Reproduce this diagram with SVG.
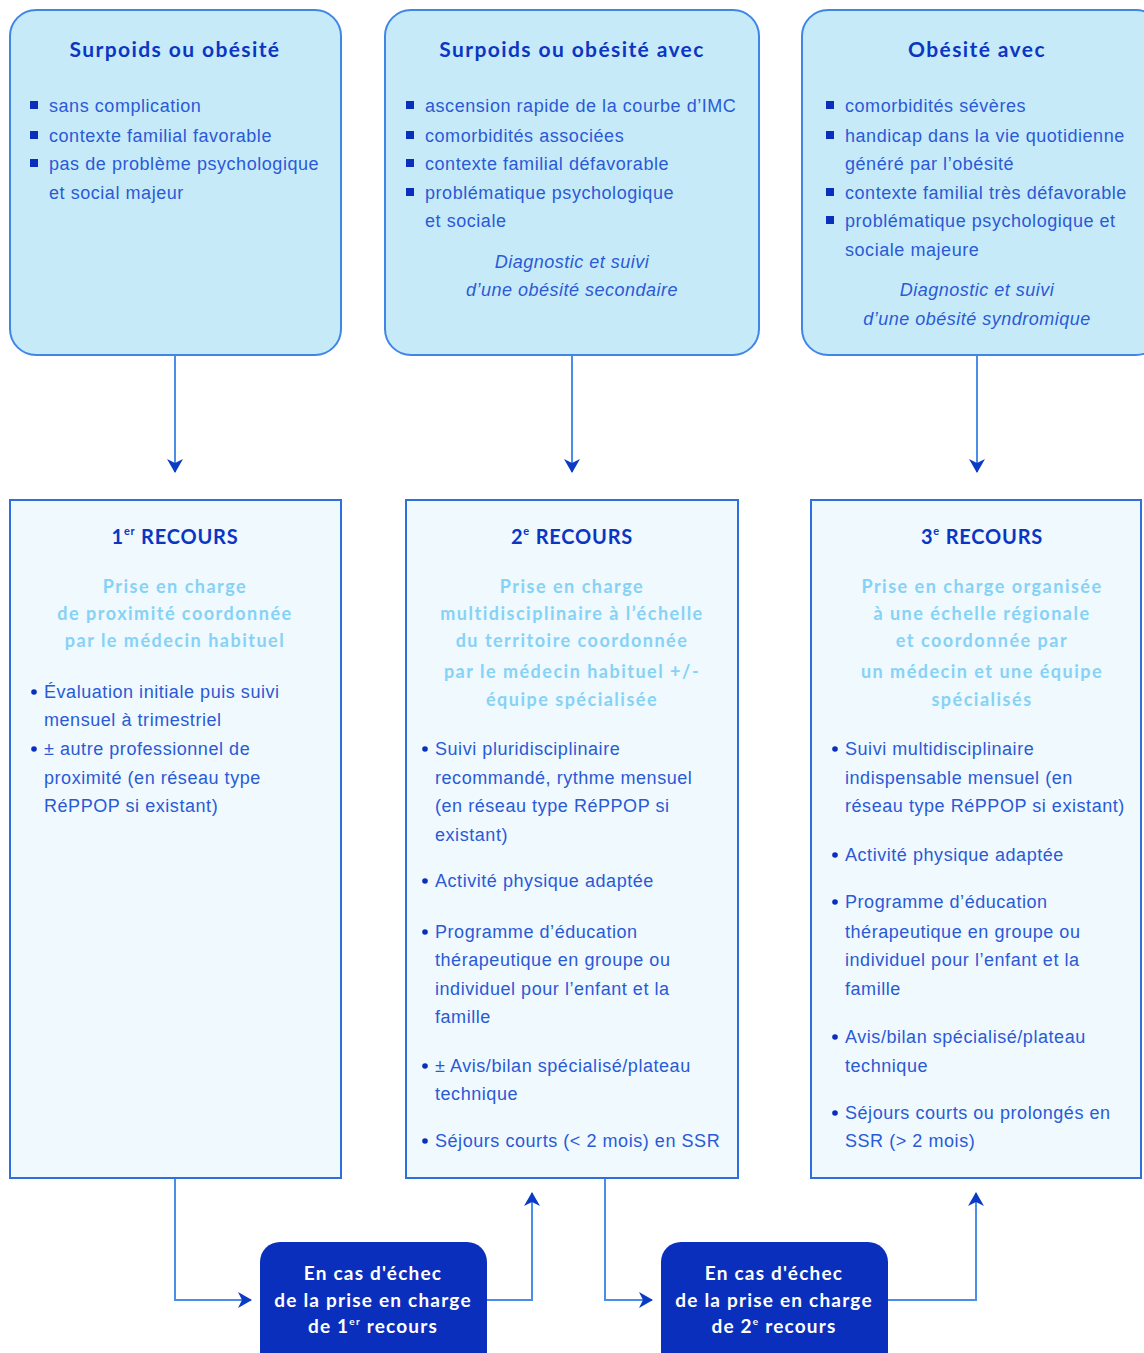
<svg xmlns="http://www.w3.org/2000/svg" width="1144" height="1353" viewBox="0 0 1144 1353">
<style>
.top{fill:#c7eaf9;stroke:#3f86e6;stroke-width:2}
.rec{fill:#eff9fe;stroke:#2f6fdd;stroke-width:2}
.fail{fill:#0b2fbd}
.ttl{font-family:Lato,"Liberation Sans",sans-serif;font-weight:700;font-size:21px;fill:#0b36c4;text-anchor:middle;letter-spacing:1.4px}
.rt{font-family:Lato,"Liberation Sans",sans-serif;font-weight:700;font-size:20px;fill:#0b36c4;text-anchor:middle;letter-spacing:0.8px}
.sub{font-family:Lato,"Liberation Sans",sans-serif;font-weight:700;font-size:18px;fill:#86d2f6;text-anchor:middle;letter-spacing:1.5px}
.txt{font-family:"Liberation Sans",Arial,sans-serif;font-size:18px;fill:#2a5ad6;letter-spacing:0.55px}
.it{font-family:"Liberation Sans",Arial,sans-serif;font-size:18px;font-style:italic;fill:#2a5ad6;text-anchor:middle;letter-spacing:0.5px}
.wt{font-family:Lato,"Liberation Sans",sans-serif;font-weight:700;font-size:19px;fill:#ffffff;text-anchor:middle;letter-spacing:1.2px}
.sq{fill:#0b2fbd}
.dot{fill:#0b2fbd}
.con{fill:none;stroke:#4a8ee8;stroke-width:2}
</style>
<defs>
<marker id="ah" viewBox="0 0 14 16" refX="13" refY="8" markerWidth="14" markerHeight="16" markerUnits="userSpaceOnUse" orient="auto">
<path d="M0,0 L14,8 L0,16 L4,8 Z" fill="#0b3bc4"/>
</marker>
</defs>
<rect width="1144" height="1353" fill="#ffffff"/>

<g id="connectors">
<path class="con" d="M175,355 V472" marker-end="url(#ah)"/>
<path class="con" d="M572,355 V472" marker-end="url(#ah)"/>
<path class="con" d="M977,355 V472" marker-end="url(#ah)"/>
<path class="con" d="M175,1178 V1300 H251" marker-end="url(#ah)"/>
<path class="con" d="M487,1300 H532 V1193" marker-end="url(#ah)"/>
<path class="con" d="M605,1178 V1300 H652" marker-end="url(#ah)"/>
<path class="con" d="M888,1300 H976 V1193" marker-end="url(#ah)"/>
</g>

<g id="node-top1">
<rect class="top" x="10" y="10" width="331" height="345" rx="26"/>
<text class="ttl" x="175" y="57">Surpoids ou obésité</text>
<rect class="sq" x="30" y="101" width="8" height="8"/>
<rect class="sq" x="30" y="131" width="8" height="8"/>
<rect class="sq" x="30" y="159" width="8" height="8"/>
<text class="txt" x="49" y="112">sans complication</text>
<text class="txt" x="49" y="142">contexte familial favorable</text>
<text class="txt" x="49" y="170">pas de problème psychologique</text>
<text class="txt" x="49" y="199">et social majeur</text>
</g>

<g id="node-top2">
<rect class="top" x="385" y="10" width="374" height="345" rx="26"/>
<text class="ttl" x="572" y="57">Surpoids ou obésité avec</text>
<rect class="sq" x="406" y="101" width="8" height="8"/>
<rect class="sq" x="406" y="131" width="8" height="8"/>
<rect class="sq" x="406" y="159" width="8" height="8"/>
<rect class="sq" x="406" y="188" width="8" height="8"/>
<text class="txt" x="425" y="112">ascension rapide de la courbe d’IMC</text>
<text class="txt" x="425" y="142">comorbidités associées</text>
<text class="txt" x="425" y="170">contexte familial défavorable</text>
<text class="txt" x="425" y="199">problématique psychologique</text>
<text class="txt" x="425" y="227">et sociale</text>
<text class="it" x="572" y="268">Diagnostic et suivi</text>
<text class="it" x="572" y="296">d’une obésité secondaire</text>
</g>

<g id="node-top3">
<rect class="top" x="802" y="10" width="360" height="345" rx="26"/>
<text class="ttl" x="977" y="57">Obésité avec</text>
<rect class="sq" x="826" y="101" width="8" height="8"/>
<rect class="sq" x="826" y="131" width="8" height="8"/>
<rect class="sq" x="826" y="188" width="8" height="8"/>
<rect class="sq" x="826" y="216" width="8" height="8"/>
<text class="txt" x="845" y="112">comorbidités sévères</text>
<text class="txt" x="845" y="142">handicap dans la vie quotidienne</text>
<text class="txt" x="845" y="170">généré par l’obésité</text>
<text class="txt" x="845" y="199">contexte familial très défavorable</text>
<text class="txt" x="845" y="227">problématique psychologique et</text>
<text class="txt" x="845" y="256">sociale majeure</text>
<text class="it" x="977" y="296">Diagnostic et suivi</text>
<text class="it" x="977" y="325">d’une obésité syndromique</text>
</g>

<g id="node-recours1">
<rect class="rec" x="10" y="500" width="331" height="678"/>
<text class="rt" x="175" y="544">1<tspan font-size="11" dy="-9">er</tspan><tspan dy="9"> RECOURS</tspan></text>
<text class="sub" x="175" y="593">Prise en charge</text>
<text class="sub" x="175" y="620">de proximité coordonnée</text>
<text class="sub" x="175" y="647">par le médecin habituel</text>
<circle class="dot" cx="34" cy="692" r="2.8"/>
<circle class="dot" cx="34" cy="749" r="2.8"/>
<text class="txt" x="44" y="698">Évaluation initiale puis suivi</text>
<text class="txt" x="44" y="726">mensuel à trimestriel</text>
<text class="txt" x="44" y="755">± autre professionnel de</text>
<text class="txt" x="44" y="784">proximité (en réseau type</text>
<text class="txt" x="44" y="812">RéPPOP si existant)</text>
</g>

<g id="node-recours2">
<rect class="rec" x="406" y="500" width="332" height="678"/>
<text class="rt" x="572" y="544">2<tspan font-size="11" dy="-9">e</tspan><tspan dy="9"> RECOURS</tspan></text>
<text class="sub" x="572" y="593">Prise en charge</text>
<text class="sub" x="572" y="620">multidisciplinaire à l’échelle</text>
<text class="sub" x="572" y="647">du territoire coordonnée</text>
<text class="sub" x="572" y="678">par le médecin habituel +/-</text>
<text class="sub" x="572" y="706">équipe spécialisée</text>
<circle class="dot" cx="425" cy="749" r="2.8"/>
<circle class="dot" cx="425" cy="881" r="2.8"/>
<circle class="dot" cx="425" cy="932" r="2.8"/>
<circle class="dot" cx="425" cy="1066" r="2.8"/>
<circle class="dot" cx="425" cy="1141" r="2.8"/>
<text class="txt" x="435" y="755">Suivi pluridisciplinaire</text>
<text class="txt" x="435" y="784">recommandé, rythme mensuel</text>
<text class="txt" x="435" y="812">(en réseau type RéPPOP si</text>
<text class="txt" x="435" y="841">existant)</text>
<text class="txt" x="435" y="887">Activité physique adaptée</text>
<text class="txt" x="435" y="938">Programme d’éducation</text>
<text class="txt" x="435" y="966">thérapeutique en groupe ou</text>
<text class="txt" x="435" y="995">individuel pour l’enfant et la</text>
<text class="txt" x="435" y="1023">famille</text>
<text class="txt" x="435" y="1072">± Avis/bilan spécialisé/plateau</text>
<text class="txt" x="435" y="1100">technique</text>
<text class="txt" x="435" y="1147">Séjours courts (&lt; 2 mois) en SSR</text>
</g>

<g id="node-recours3">
<rect class="rec" x="811" y="500" width="330" height="678"/>
<text class="rt" x="982" y="544">3<tspan font-size="11" dy="-9">e</tspan><tspan dy="9"> RECOURS</tspan></text>
<text class="sub" x="982" y="593">Prise en charge organisée</text>
<text class="sub" x="982" y="620">à une échelle régionale</text>
<text class="sub" x="982" y="647">et coordonnée par</text>
<text class="sub" x="982" y="678">un médecin et une équipe</text>
<text class="sub" x="982" y="706">spécialisés</text>
<circle class="dot" cx="835" cy="749" r="2.8"/>
<circle class="dot" cx="835" cy="855" r="2.8"/>
<circle class="dot" cx="835" cy="902" r="2.8"/>
<circle class="dot" cx="835" cy="1037" r="2.8"/>
<circle class="dot" cx="835" cy="1113" r="2.8"/>
<text class="txt" x="845" y="755">Suivi multidisciplinaire</text>
<text class="txt" x="845" y="784">indispensable mensuel (en</text>
<text class="txt" x="845" y="812">réseau type RéPPOP si existant)</text>
<text class="txt" x="845" y="861">Activité physique adaptée</text>
<text class="txt" x="845" y="908">Programme d’éducation</text>
<text class="txt" x="845" y="938">thérapeutique en groupe ou</text>
<text class="txt" x="845" y="966">individuel pour l’enfant et la</text>
<text class="txt" x="845" y="995">famille</text>
<text class="txt" x="845" y="1043">Avis/bilan spécialisé/plateau</text>
<text class="txt" x="845" y="1072">technique</text>
<text class="txt" x="845" y="1119">Séjours courts ou prolongés en</text>
<text class="txt" x="845" y="1147">SSR (&gt; 2 mois)</text>
</g>

<g id="node-fail1">
<rect class="fail" x="260" y="1242" width="227" height="130" rx="20"/>
<text class="wt" x="373" y="1280">En cas d'échec</text>
<text class="wt" x="373" y="1307">de la prise en charge</text>
<text class="wt" x="373" y="1333">de 1<tspan font-size="10" dy="-8">er</tspan><tspan dy="8"> recours</tspan></text>
</g>

<g id="node-fail2">
<rect class="fail" x="661" y="1242" width="227" height="130" rx="20"/>
<text class="wt" x="774" y="1280">En cas d'échec</text>
<text class="wt" x="774" y="1307">de la prise en charge</text>
<text class="wt" x="774" y="1333">de 2<tspan font-size="10" dy="-8">e</tspan><tspan dy="8"> recours</tspan></text>
</g>
</svg>
